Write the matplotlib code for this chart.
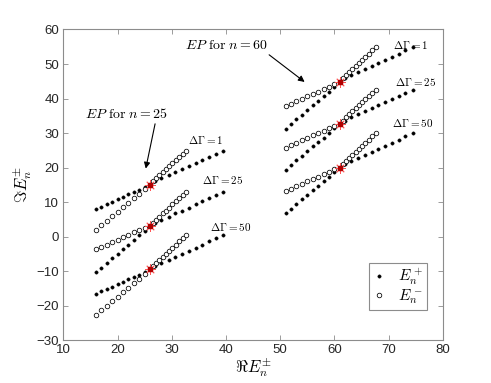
import matplotlib
matplotlib.use('Agg')
import matplotlib.pyplot as plt

plt.rcParams['mathtext.fontset'] = 'cm'
plt.rcParams['font.family'] = ['Liberation Sans', 'DejaVu Sans']

# --- left cluster (EP for n = 25) ---
left_re_before = [16, 17, 18, 19, 20, 21, 22, 23, 24, 25]
left_re_ep = 26
left_re_plus_after = [26.9, 28.1, 29.4, 30.6, 31.9, 33.1, 34.4, 35.6, 36.9, 38.1, 39.4]
left_re_minus_after = [26.5, 27.1, 27.7, 28.3, 28.9, 29.5, 30.1, 30.7, 31.3, 32.0, 32.7]

# dG = 1
l1_im_plus_before = [8.0, 8.7, 9.4, 10.1, 10.8, 11.5, 12.2, 12.9, 13.6, 14.3]
l1_im_minus_before = [2.0, 3.3, 4.6, 5.9, 7.2, 8.5, 9.8, 11.1, 12.4, 13.7]
l1_im_ep = 15.0
l1_im_after = [16.0, 16.9, 17.8, 18.7, 19.5, 20.4, 21.3, 22.2, 23.1, 24.0, 24.9]
# dG = 25
l25_im_plus_before = [-10.3, -9.0, -7.6, -6.3, -5.0, -3.6, -2.3, -1.0, 0.4, 1.7]
l25_im_minus_before = [-3.7, -3.0, -2.3, -1.6, -0.9, -0.2, 0.5, 1.2, 1.9, 2.5]
l25_im_ep = 3.1
l25_im_after = [4.0, 4.9, 5.8, 6.7, 7.5, 8.4, 9.3, 10.2, 11.1, 12.0, 12.9]
# dG = 50
l50_im_plus_before = [-16.6, -15.9, -15.2, -14.5, -13.8, -13.1, -12.4, -11.7, -11.0, -10.3]
l50_im_minus_before = [-22.6, -21.3, -20.0, -18.7, -17.4, -16.1, -14.8, -13.5, -12.2, -10.9]
l50_im_ep = -9.5
l50_im_after = [-8.6, -7.7, -6.8, -5.9, -5.0, -4.1, -3.2, -2.3, -1.4, -0.5, 0.4]

# --- right cluster (EP for n = 60) ---
right_re_before = [51, 52, 53, 54, 55, 56, 57, 58, 59, 60]
right_re_ep = 61
right_re_plus_after = [61.9, 63.1, 64.4, 65.6, 66.9, 68.1, 69.4, 70.6, 71.9, 73.1, 74.4]
right_re_minus_after = [61.5, 62.1, 62.7, 63.3, 63.9, 64.5, 65.1, 65.7, 66.3, 67.0, 67.7]

r1_im_plus_before = [31.3, 32.6, 34.0, 35.3, 36.7, 38.0, 39.3, 40.7, 42.0, 43.4]
r1_im_minus_before = [37.8, 38.5, 39.2, 39.9, 40.6, 41.3, 42.0, 42.7, 43.4, 44.1]
r1_im_ep = 44.7
r1_im_after = [45.8, 46.7, 47.6, 48.5, 49.4, 50.3, 51.2, 52.1, 53.0, 54.0, 55.0]

r25_im_plus_before = [19.4, 20.7, 22.1, 23.4, 24.7, 26.1, 27.4, 28.7, 30.0, 31.4]
r25_im_minus_before = [25.8, 26.5, 27.2, 27.9, 28.6, 29.3, 30.0, 30.7, 31.4, 32.1]
r25_im_ep = 32.7
r25_im_after = [33.6, 34.5, 35.4, 36.3, 37.2, 38.1, 39.0, 39.9, 40.8, 41.6, 42.4]

r50_im_plus_before = [6.8, 8.1, 9.4, 10.8, 12.1, 13.4, 14.7, 16.0, 17.4, 18.7]
r50_im_minus_before = [13.2, 13.9, 14.6, 15.3, 16.0, 16.7, 17.4, 18.1, 18.8, 19.5]
r50_im_ep = 20.0
r50_im_after = [20.9, 21.8, 22.7, 23.6, 24.5, 25.4, 26.3, 27.2, 28.1, 29.0, 30.0]

groups = [
    (left_re_before, left_re_ep, left_re_plus_after, left_re_minus_after,
     l1_im_plus_before, l1_im_minus_before, l1_im_ep, l1_im_after),
    (left_re_before, left_re_ep, left_re_plus_after, left_re_minus_after,
     l25_im_plus_before, l25_im_minus_before, l25_im_ep, l25_im_after),
    (left_re_before, left_re_ep, left_re_plus_after, left_re_minus_after,
     l50_im_plus_before, l50_im_minus_before, l50_im_ep, l50_im_after),
    (right_re_before, right_re_ep, right_re_plus_after, right_re_minus_after,
     r1_im_plus_before, r1_im_minus_before, r1_im_ep, r1_im_after),
    (right_re_before, right_re_ep, right_re_plus_after, right_re_minus_after,
     r25_im_plus_before, r25_im_minus_before, r25_im_ep, r25_im_after),
    (right_re_before, right_re_ep, right_re_plus_after, right_re_minus_after,
     r50_im_plus_before, r50_im_minus_before, r50_im_ep, r50_im_after),
]

# delta Gamma labels (x, y, value)
dg_labels = [(33.0, 27.9, 1), (35.6, 16.3, 25), (37.0, 2.9, 50),
             (70.8, 55.5, 1), (71.2, 44.8, 25), (70.6, 32.9, 50)]

fig = plt.figure(figsize=(4.91, 3.83), dpi=100)
ax = fig.add_axes([0.129, 0.112, 0.773, 0.811])

plus_style = dict(ls='none', marker='o', ms=2.4, mfc='black', mec='black', mew=0.3)
minus_style = dict(ls='none', marker='o', ms=3.3, mfc='white', mec='black', mew=0.55)

for re_b, re_ep, re_pa, re_ma, im_pb, im_mb, im_ep, im_a in groups:
    ax.plot(re_b + [re_ep] + re_pa, im_pb + [im_ep] + im_a, **plus_style)
    ax.plot(re_b + [re_ep] + re_ma, im_mb + [im_ep] + im_a, **minus_style)
    # exceptional point marker
    ax.plot([re_ep], [im_ep], ls='none', marker=(8, 2, 0), ms=7.5, mec='#ff5555', mew=0.6, zorder=5)
    ax.plot([re_ep], [im_ep], ls='none', marker='s', ms=3.2, mfc='#b00000', mec='#b00000', zorder=6)

for x, y, g in dg_labels:
    ax.text(x, y, r'$\Delta\Gamma = %d$' % g, fontsize=8, va='center', ha='left')

ax.annotate(r'$EP\ \mathrm{for}\ n = 25$', xy=(25.2, 19.7), xytext=(14.0, 35.5),
            fontsize=10, va='center', ha='left',
            arrowprops=dict(arrowstyle='-|>', color='black', lw=0.8,
                            shrinkA=0, shrinkB=0, mutation_scale=9,
                            relpos=(0.85, 0.0)))
ax.annotate(r'$EP\ \mathrm{for}\ n = 60$', xy=(54.5, 44.8), xytext=(32.4, 55.5),
            fontsize=10, va='center', ha='left',
            arrowprops=dict(arrowstyle='-|>', color='black', lw=0.8,
                            shrinkA=0, shrinkB=0, mutation_scale=9,
                            relpos=(0.97, 0.0)))

# legend entries
ax.plot([], [], label=r'$E_n^+$', **plus_style)
ax.plot([], [], label=r'$E_n^-$', **minus_style)
leg = ax.legend(loc='lower right', bbox_to_anchor=(0.958, 0.097), borderaxespad=0,
                fontsize=11, fancybox=False, framealpha=1, edgecolor='0.55',
                handlelength=0.8, handletextpad=0.9, labelspacing=0.0,
                borderpad=0.25)
leg.get_frame().set_linewidth(0.8)

ax.set_xlim(10, 80)
ax.set_ylim(-30, 60)
ax.set_xticks(range(10, 81, 10))
ax.set_yticks(range(-30, 61, 10))
ax.tick_params(direction='in', top=True, right=True, length=3.5, width=0.6,
               labelsize=9.5, colors='0.15', pad=3)
ax.tick_params(color='0.55')
for s in ax.spines.values():
    s.set_color('0.55')
    s.set_linewidth(0.8)

ax.set_xlabel(r'$\Re E_n^{\pm}$', fontsize=12, labelpad=0)
ax.set_ylabel(r'$\Im E_n^{\pm}$', fontsize=12, labelpad=2)

fig.savefig('out.png', dpi=100)
